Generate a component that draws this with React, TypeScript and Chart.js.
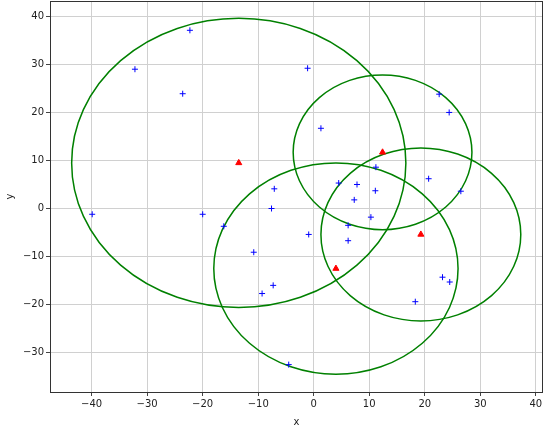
import React, { useEffect, useRef } from "react";
import { Chart, registerables } from "chart.js";

Chart.register(...registerables);

const pointsX = [-22.3, -32.2, -23.6, -39.9, -20.0, -7.1, -7.6, -1.1, 1.3, 22.6, 24.4, 11.2, 20.7, 26.5, 4.5, 7.8, 11.1, 7.3, 10.3, 6.2, -0.9, 6.2, 23.2, 24.5, 18.3, -7.3, -9.3, -4.5, -16.2, -10.8];
const pointsY = [37.1, 29.0, 23.9, -1.2, -1.2, 4.1, 0.0, 29.2, 16.7, 23.8, 20.0, 8.6, 6.2, 3.6, 5.3, 5.0, 3.7, 1.8, -1.8, -3.5, -5.4, -6.7, -14.3, -15.3, -19.4, -16.0, -17.7, -32.5, -3.7, -9.1];
const centroidsX = [-13.5, 12.4, 19.3, 4.0];
const centroidsY = [9.5, 11.7, -5.4, -12.5];
const radii = [30.1, 16.1, 18.0, 22.0];
const xTicks = [-40, -30, -20, -10, 0, 10, 20, 30, 40];
const yTicks = [-30, -20, -10, 0, 10, 20, 30, 40];

const circlesPlugin = {
  id: "circles",
  beforeDatasetsDraw(chart: any) {
    const { ctx, chartArea, scales } = chart;
    const xs = scales.x;
    const ys = scales.y;
    ctx.save();
    ctx.beginPath();
    ctx.rect(chartArea.left, chartArea.top, chartArea.right - chartArea.left, chartArea.bottom - chartArea.top);
    ctx.clip();
    ctx.strokeStyle = "#008000";
    ctx.lineWidth = 1.5;
    for (let i = 0; i < centroidsX.length; i++) {
      const cx = xs.getPixelForValue(centroidsX[i]);
      const cy = ys.getPixelForValue(centroidsY[i]);
      const rx = Math.abs(xs.getPixelForValue(centroidsX[i] + radii[i]) - cx);
      const ry = Math.abs(ys.getPixelForValue(centroidsY[i] + radii[i]) - cy);
      ctx.beginPath();
      ctx.ellipse(cx, cy, rx, ry, 0, 0, Math.PI * 2);
      ctx.stroke();
    }
    ctx.restore();
  },
  afterDraw(chart: any) {
    const { ctx, chartArea } = chart;
    ctx.save();
    ctx.strokeStyle = "#333333";
    ctx.lineWidth = 1;
    ctx.beginPath();
    ctx.moveTo(chartArea.left, chartArea.top + 0.5);
    ctx.lineTo(chartArea.right, chartArea.top + 0.5);
    ctx.moveTo(chartArea.right - 0.5, chartArea.top);
    ctx.lineTo(chartArea.right - 0.5, chartArea.bottom);
    ctx.stroke();
    ctx.restore();
  },
};

const fmt = (v: number) => String(v).replace("-", "\u2212");

export default function App() {
  const ref = useRef<HTMLCanvasElement | null>(null);
  useEffect(() => {
    if (!ref.current) return;
    const font = { family: "DejaVu Sans", size: 10 };
    const chart = new Chart(ref.current, {
      type: "scatter",
      data: {
        datasets: [
          {
            label: "points",
            data: pointsX.map((x, i) => ({ x, y: pointsY[i] })),
            pointStyle: "cross",
            radius: 3,
            borderColor: "#0000ff",
            backgroundColor: "#0000ff",
            borderWidth: 1,
          },
          {
            label: "centroids",
            data: centroidsX.map((x, i) => ({ x, y: centroidsY[i] })),
            pointStyle: "triangle",
            radius: 3.5,
            borderColor: "#ff0000",
            backgroundColor: "#ff0000",
            borderWidth: 1,
          },
        ],
      },
      options: {
        animation: false,
        responsive: true,
        maintainAspectRatio: false,
        layout: { autoPadding: false, padding: { top: 1, left: 0, right: 0, bottom: 0 } },
        plugins: { legend: { display: false }, tooltip: { enabled: false } },
        scales: {
          x: {
            type: "linear",
            min: -47.5,
            max: 41.3,
            afterBuildTicks: (s: any) => {
              s.ticks = xTicks.map((v) => ({ value: v }));
            },
            afterFit: (s: any) => {
              s.height = 36;
              s.paddingLeft = 0;
              s.paddingRight = 0;
            },
            ticks: { font, color: "#222", padding: 2, maxRotation: 0, autoSkip: false, callback: (v: any) => fmt(v) },
            grid: { color: "#d0d0d0", lineWidth: 1, tickLength: 4, tickColor: "#444" },
            border: { color: "#333", width: 1 },
            title: { display: true, text: "x", font, color: "#222", padding: { top: 0, bottom: 0 } },
          },
          y: {
            type: "linear",
            min: -38.2,
            max: 43.2,
            afterBuildTicks: (s: any) => {
              s.ticks = yTicks.map((v) => ({ value: v }));
            },
            afterFit: (s: any) => {
              s.width = 50;
              s.paddingTop = 0;
              s.paddingBottom = 0;
            },
            ticks: { font, color: "#222", padding: 2, autoSkip: false, callback: (v: any) => fmt(v) },
            grid: { color: "#d0d0d0", lineWidth: 1, tickLength: 4, tickColor: "#444" },
            border: { color: "#333", width: 1 },
            title: { display: true, text: "y", font, color: "#222", padding: { top: 4, bottom: 0 } },
          },
        },
      },
      plugins: [circlesPlugin],
    } as any);
    return () => chart.destroy();
  }, []);
  return (
    <div style={{ position: "fixed", left: 0, top: 0, width: 543, height: 428, background: "#fff" }}>
      <canvas ref={ref} />
    </div>
  );
}
